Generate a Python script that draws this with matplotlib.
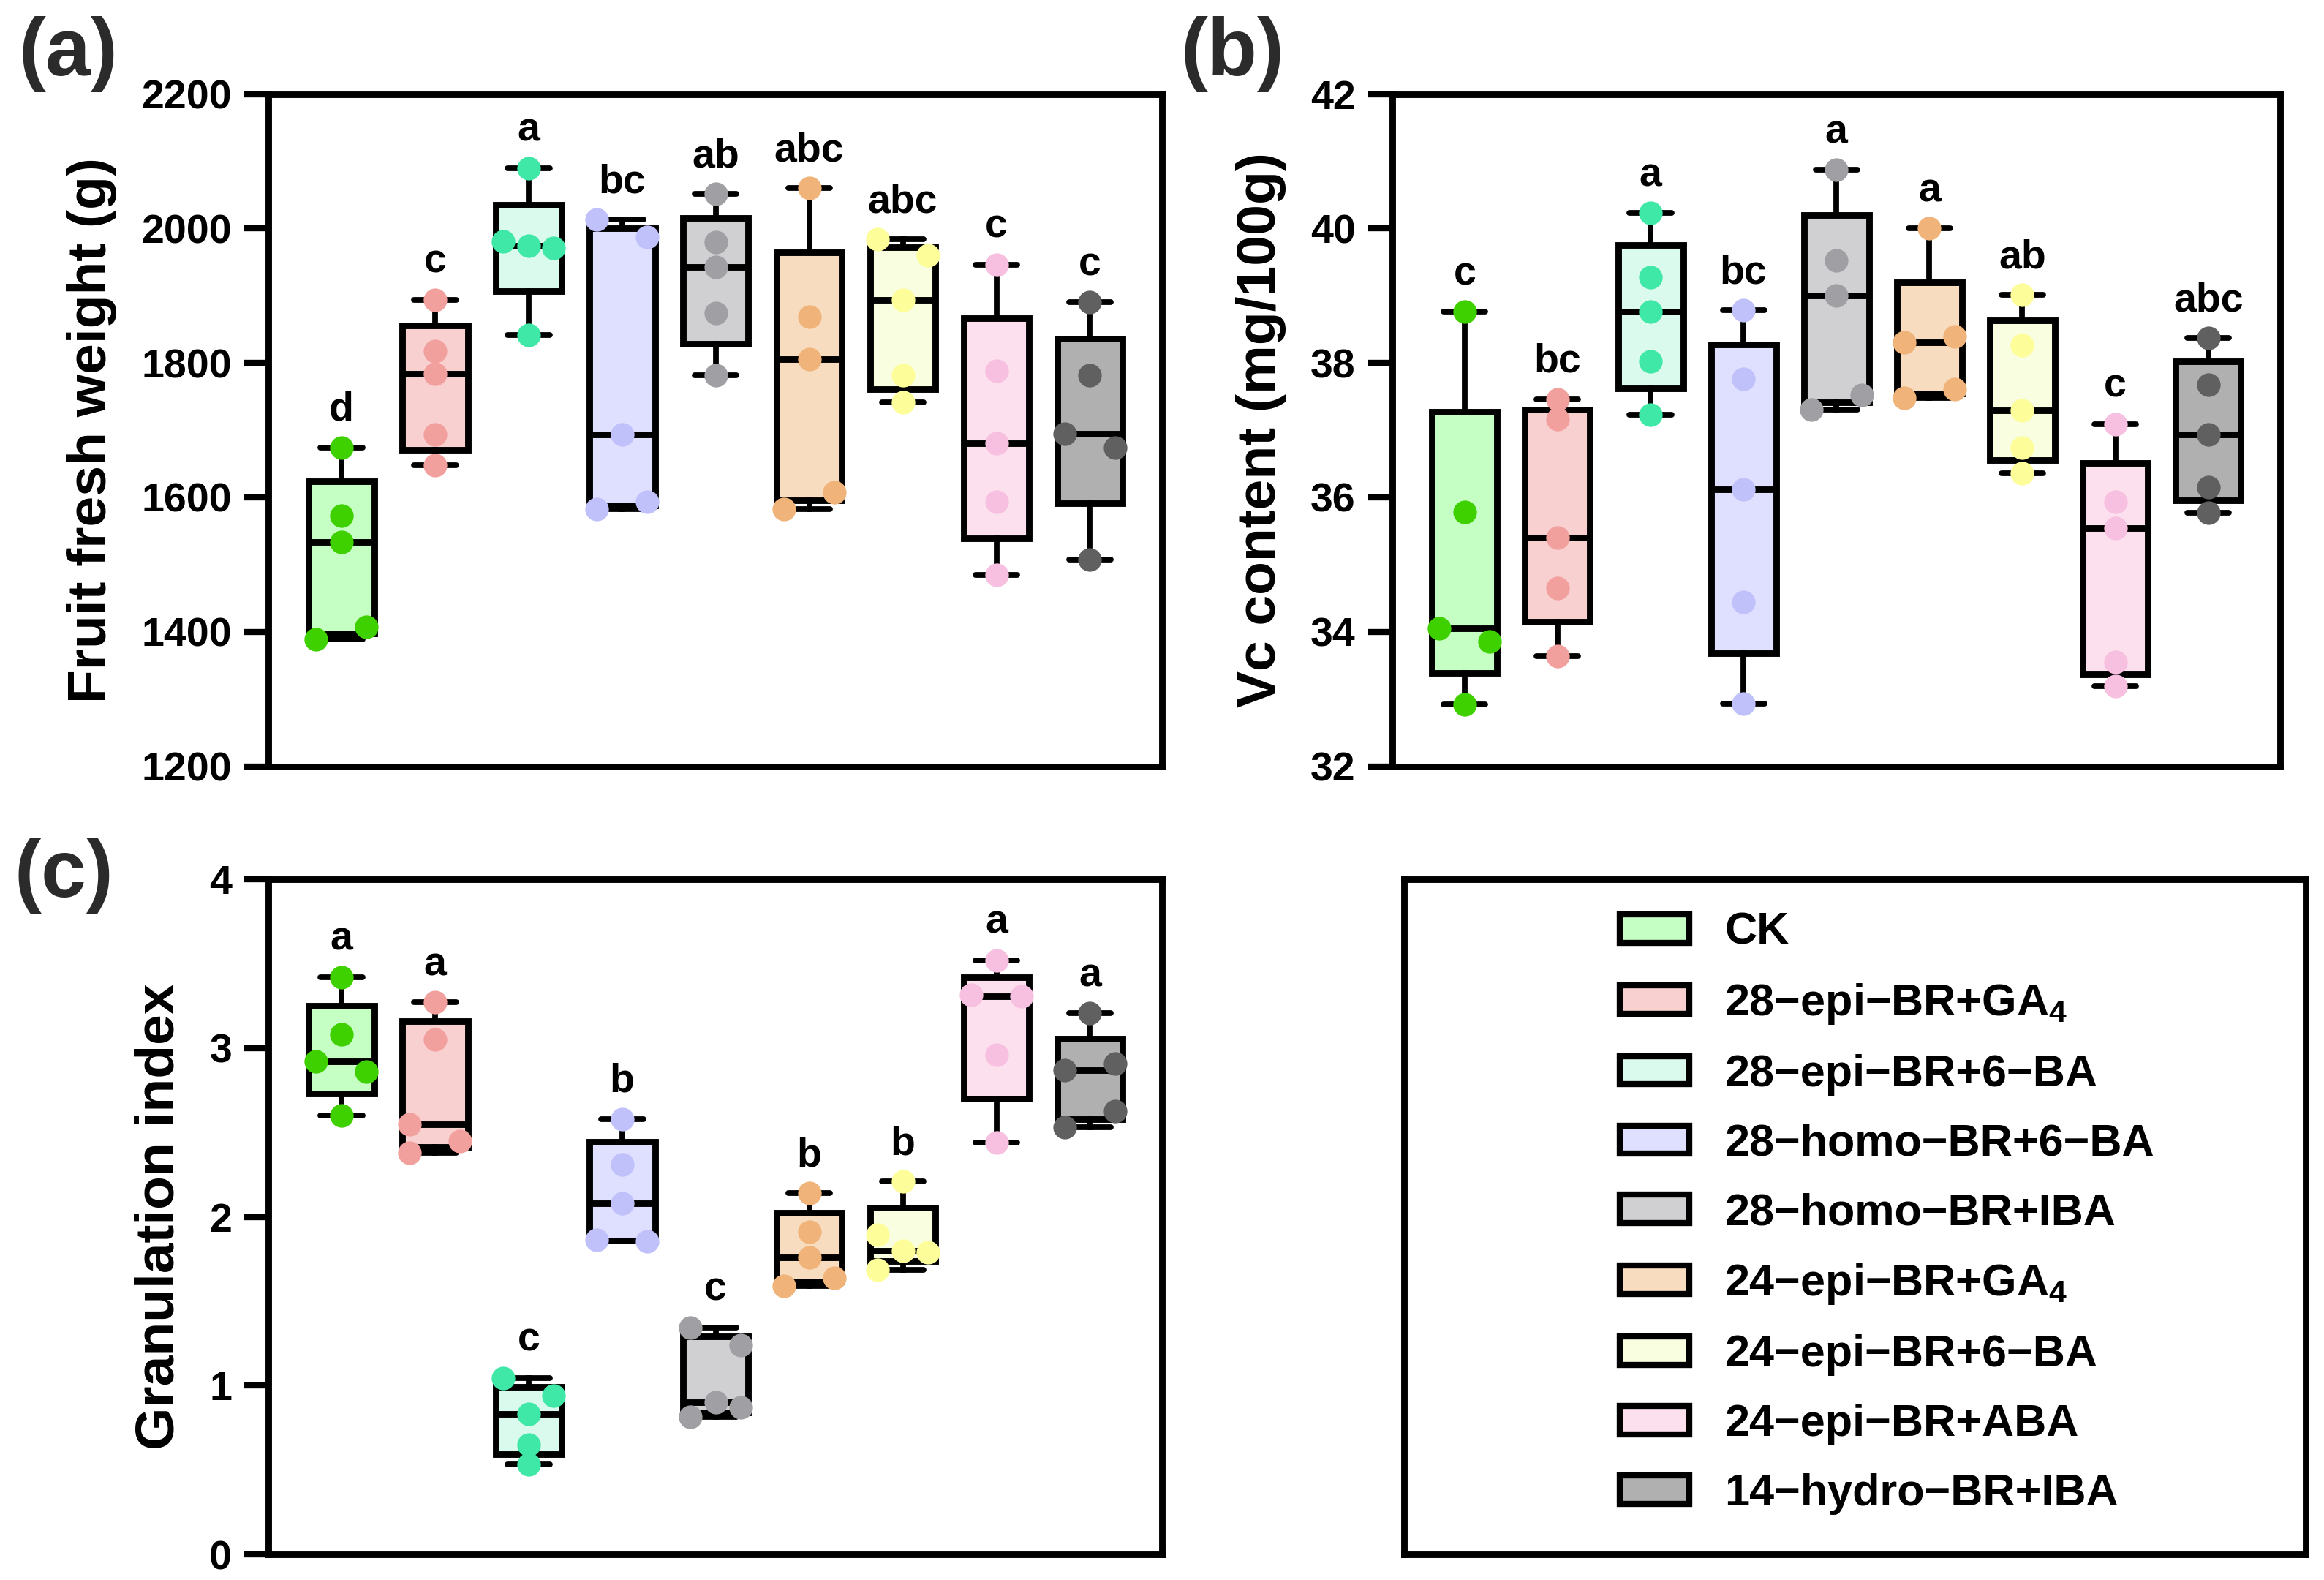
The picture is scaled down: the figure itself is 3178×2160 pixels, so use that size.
import numpy as np
import matplotlib
matplotlib.use("Agg")
import matplotlib.pyplot as plt
from matplotlib.patches import Patch

plt.rcParams['font.family'] = ['Liberation Sans', 'DejaVu Sans']
plt.rcParams['font.weight'] = 'bold'
plt.rcParams['mathtext.default'] = 'regular'

# treatments (legend order)
groups = ["CK", "28\u2212epi\u2212BR+GA$_4$", "28\u2212epi\u2212BR+6\u2212BA",
          "28\u2212homo\u2212BR+6\u2212BA", "28\u2212homo\u2212BR+IBA",
          "24\u2212epi\u2212BR+GA$_4$", "24\u2212epi\u2212BR+6\u2212BA",
          "24\u2212epi\u2212BR+ABA", "14\u2212hydro\u2212BR+IBA"]

box_fill = ["#c6ffc4", "#f9d0d0", "#dafaee", "#dfe0ff", "#d0d0d2",
            "#f8dcc0", "#fafee0", "#fde0ee", "#b0b0b0"]
dot_color = ["#3fd000", "#f2a09e", "#40e8a8", "#c0c0fa", "#a0a0a4",
             "#f0b47a", "#fdfd99", "#f8c0e0", "#606060"]

# (a) fruit fresh weight, g (5 fruits per treatment)
weight = [
    [1674, 1573, 1534, 1389, 1407],
    [1894, 1818, 1784, 1694, 1648],
    [2090, 1981, 1971, 1974, 1842],
    [2013, 1987, 1693, 1583, 1593],
    [2051, 1980, 1943, 1874, 1782],
    [2060, 1869, 1806, 1583, 1608],
    [1984, 1960, 1894, 1782, 1741],
    [1946, 1788, 1681, 1593, 1485],
    [1890, 1782, 1695, 1674, 1508],
]
weight_letters = ["d", "c", "a", "bc", "ab", "abc", "abc", "c", "c"]

# (b) Vc content, mg/100g
vc = [
    [38.76, 35.78, 34.05, 33.86, 32.92],
    [37.46, 37.16, 35.40, 34.65, 33.64],
    [40.23, 39.27, 38.76, 38.02, 37.23],
    [38.78, 37.76, 36.12, 34.44, 32.93],
    [40.87, 39.52, 39.00, 37.31, 37.52],
    [40.00, 38.31, 38.39, 37.48, 37.61],
    [39.01, 38.26, 37.29, 36.74, 36.36],
    [37.09, 35.93, 35.54, 33.55, 33.19],
    [38.37, 37.68, 36.94, 36.15, 35.77],
]
vc_letters = ["c", "bc", "a", "bc", "a", "a", "ab", "c", "abc"]

# (c) granulation index
gran = [
    [3.42, 3.08, 2.92, 2.86, 2.60],
    [3.27, 3.05, 2.55, 2.45, 2.38],
    [1.045, 0.94, 0.83, 0.65, 0.535],
    [2.58, 2.31, 2.08, 1.865, 1.855],
    [1.345, 1.24, 0.815, 0.87, 0.90],
    [2.14, 1.91, 1.76, 1.59, 1.64],
    [2.21, 1.895, 1.79, 1.80, 1.685],
    [3.52, 3.315, 3.305, 2.96, 2.44],
    [3.205, 2.87, 2.91, 2.53, 2.625],
]
gran_letters = ["a", "a", "c", "b", "c", "b", "b", "a", "a"]


def swarm_offsets(vals, thr, d):
    # spread points that would overlap: left, right, then centre
    offs = [0.0] * len(vals)
    placed = []
    for i, v in enumerate(vals):
        near = any(abs(v - w) < thr for j, w in enumerate(vals) if j != i)
        if not near:
            continue
        for cand in (-d, d, 0.0):
            if all(not (abs(v - w) < thr and o == cand) for w, o in placed):
                offs[i] = cand
                break
        placed.append((v, offs[i]))
    return offs


def box_panel(ax, data, letters, ylim, yticks, ylabel):
    stats = []
    for vals in data:
        q1, med, q3 = np.percentile(vals, [25, 50, 75], method="weibull")
        stats.append(dict(med=med, q1=q1, q3=q3, whislo=min(vals),
                          whishi=max(vals), fliers=[]))
    pos = np.arange(len(data))
    bp = ax.bxp(stats, positions=pos, widths=0.7, capwidths=0.45,
                patch_artist=True, showfliers=False,
                boxprops=dict(linewidth=3.2, edgecolor="black"),
                whiskerprops=dict(linewidth=2.8, color="black"),
                capprops=dict(linewidth=2.8, color="black", solid_capstyle="round"),
                medianprops=dict(linewidth=3.2, color="black"))
    for patch, fc in zip(bp["boxes"], box_fill):
        patch.set_facecolor(fc)

    span = ylim[1] - ylim[0]
    for i, vals in enumerate(data):
        offs = swarm_offsets(vals, 0.027 * span, 0.27)
        ax.scatter(pos[i] + np.array(offs), vals, s=135, color=dot_color[i],
                   linewidths=0, zorder=4)
        ax.annotate(letters[i], (pos[i], max(vals)), xytext=(0, 9),
                    textcoords="offset points", ha="center", va="bottom",
                    fontsize=20, fontweight="bold")

    ax.set_xlim(-0.78, len(data) - 1 + 0.77)
    ax.set_ylim(*ylim)
    ax.set_yticks(yticks)
    ax.set_xticks([])
    ax.set_ylabel(ylabel, fontsize=27, fontweight="bold", labelpad=12)
    ax.tick_params(axis="y", length=12, width=3, labelsize=20, pad=6)
    for sp in ax.spines.values():
        sp.set_linewidth(3.2)


fig = plt.figure(figsize=(15.89, 10.8), dpi=200)

ax_a = fig.add_axes([0.1155, 0.515, 0.3845, 0.4255])
box_panel(ax_a, weight, weight_letters, (1200, 2200), np.arange(1200, 2201, 200),
          "Fruit fresh weight (g)")

ax_b = fig.add_axes([0.599, 0.515, 0.382, 0.4255])
box_panel(ax_b, vc, vc_letters, (32, 42), np.arange(32, 43, 2),
          "Vc content (mg/100g)")

ax_c = fig.add_axes([0.1155, 0.0162, 0.3845, 0.4273])
box_panel(ax_c, gran, gran_letters, (0, 4), np.arange(0, 5, 1),
          "Granulation index")

# legend panel
ax_l = fig.add_axes([0.604, 0.0162, 0.388, 0.4273])
ax_l.set_xticks([])
ax_l.set_yticks([])
for sp in ax_l.spines.values():
    sp.set_linewidth(3.2)
handles = [Patch(facecolor=fc, edgecolor="black", linewidth=3) for fc in box_fill]
ax_l.legend(handles, groups, loc="center", bbox_to_anchor=(0.536, 0.505),
            frameon=False, handlelength=1.55, handleheight=0.6,
            handletextpad=0.8, labelspacing=0.62, borderpad=0,
            prop=dict(weight="bold", size=22))

for label, x, y in [("(a)", 0.008, 0.990), ("(b)", 0.508, 0.990), ("(c)", 0.006, 0.470)]:
    fig.text(x, y, label, fontsize=40, fontweight="bold", color="#2b2b2b",
             ha="left", va="top")

fig.savefig("out.png", dpi=200)
